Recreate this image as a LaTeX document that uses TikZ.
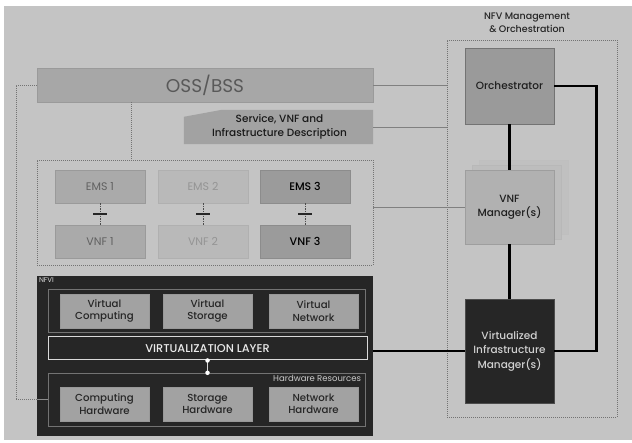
\documentclass[tikz,border=0pt]{standalone}
\usepackage{fontspec}
\setmainfont{Poppins}
\newfontfamily\medium{Poppins Medium}
\usetikzlibrary{calc}
\definecolor{bgray}{HTML}{C4C4C4}
\definecolor{ossfill}{HTML}{A7A7A7}
\definecolor{ossborder}{HTML}{9A9A9A}
\definecolor{midfill}{HTML}{A2A2A2}
\definecolor{dark}{HTML}{262626}
\definecolor{emsA}{HTML}{AAAAAA}
\definecolor{emsB}{HTML}{B9B9B9}
\definecolor{emsC}{HTML}{9B9B9B}
\definecolor{vnfmfill}{HTML}{B1B1B1}
\definecolor{layerfill}{HTML}{BDBDBD}
\tikzset{
  box/.style={rectangle, inner sep=0pt, align=center, font=\fontsize{11}{12}\selectfont},
  emsone/.style={box, fill=emsA, draw=ossborder, text=black!62, minimum width=90pt, minimum height=33pt},
  emstwo/.style={box, fill=emsB, draw=emsB!95!black, text=black!42, minimum width=90pt, minimum height=33pt},
  emsthree/.style={box, fill=emsC, draw=black!45, text=black, minimum width=90pt, minimum height=33pt},
  resbox/.style={box, fill=midfill, draw=black!40, text=black!85, minimum width=89pt, minimum height=34pt, font=\medium\fontsize{10.2}{12.5}\selectfont},
  manobox/.style={box, minimum width=89pt, font=\medium\fontsize{10.5}{14}\selectfont},
  dashedframe/.style={draw=black!55, dash pattern=on 1pt off 1pt, line width=0.5pt},
  thinlink/.style={draw=black!50, line width=0.6pt},
  thicklink/.style={draw=black, line width=2.6pt},
  emslink/.style={draw=black!70, dash pattern=on 1.5pt off 1pt, line width=0.5pt},
  emstick/.style={draw=black!85, line width=1.2pt},
  dot/.style={circle, fill=white, inner sep=0pt, minimum size=4.5pt}
}
\begin{document}
\begin{tikzpicture}[x=1pt, y=-1pt]
\useasboundingbox (0,0) rectangle (632,443);
\fill[white] (0,0) rectangle (632,443);
\fill[bgray] (3.5,6) rectangle (632,440);

% NFV MANO frame and title
\node[box, dashedframe, minimum width=170pt, minimum height=377pt] (mano) at (532,228.5) {};
\node[box, font=\medium\fontsize{9.5}{13}\selectfont, text=black!85] (manotitle) at (527,23) {NFV Management\\\& Orchestration};

% OSS/BSS and descriptors
\node[box, fill=ossfill, draw=ossborder, minimum width=336pt, minimum height=34pt, text=black!65, font=\fontsize{18.5}{20}\selectfont] (oss) at (205,85) {OSS/BSS};
\node[box, minimum width=189pt, minimum height=34pt] (desc) at (278.5,127) {};
\fill[midfill] (desc.south west) -- ([yshift=-7pt]desc.north west) -- ([xshift=38pt]desc.north west) -- (desc.north east) -- (desc.south east) -- cycle;
\node[box, text=black!90, font=\medium\fontsize{10.5}{14}\selectfont] (desctext) at ([xshift=1pt]desc.center) {Service, VNF and\\Infrastructure Description};

% EMS / VNF group
\node[box, dashedframe, minimum width=336pt, minimum height=105pt] (emsbox) at (205,212.5) {};
\node[emsone] (ems1) at (100,186.5) {EMS 1};
\node[emstwo] (ems2) at (203,186.5) {EMS 2};
\node[emsthree, font=\medium\fontsize{11}{12}\selectfont] (ems3) at (305,186.5) {EMS 3};
\node[emsone] (vnf1) at (100,241.5) {VNF 1};
\node[emstwo] (vnf2) at (203,241.5) {VNF 2};
\node[emsthree, font=\medium\fontsize{11}{12}\selectfont] (vnf3) at (305,241.5) {VNF 3};
\foreach \e/\v in {ems1/vnf1, ems2/vnf2, ems3/vnf3} {
  \draw[emslink] (\e.south) -- (\v.north);
  \draw[emstick] ($(\e.south)!0.5!(\v.north)$) +(-7,0) -- +(7,0);
}

% MANO functional blocks
\node[manobox, fill=midfill!95!black, draw=black!55, minimum height=76pt, text=black!88] (orch) at (509.5,86) {Orchestrator};
\node[box, fill=layerfill!60!bgray, draw=black!25, minimum width=89pt, minimum height=74pt] (vnfmback) at (523.5,197) {};
\node[box, fill=layerfill, draw=black!28, minimum width=89pt, minimum height=74pt] (vnfmmid) at (516.5,202) {};
\node[manobox, fill=vnfmfill, draw=black!38, minimum height=74pt, text=black!88] (vnfm) at (509.5,207) {VNF\\Manager(s)};
\node[manobox, fill=dark, draw=black!70, minimum height=104pt, text=black!18, font=\medium\fontsize{10.5}{14.5}\selectfont] (vim) at (509.5,351) {Virtualized\\Infrastructure\\Manager(s)};

% NFVI
\node[box, fill=dark, minimum width=336pt, minimum height=160pt] (nfvi) at (205,356) {};
\node[box, anchor=north west, text=white!85!black, font=\fontsize{7}{7}\selectfont] (nfvilabel) at ([xshift=2pt, yshift=-2pt]nfvi.north west) {NFVI};
\node[box, draw=black!55, minimum width=317pt, minimum height=43pt] (virtbox) at (206.5,311) {};
\node[resbox] (vcomp) at (104.5,311) {Virtual\\Computing};
\node[resbox] (vstor) at (207.5,311) {Virtual\\Storage};
\node[resbox] (vnet) at (313.5,311) {Virtual\\Network};
\node[box, draw=white!85!black, line width=1pt, minimum width=319pt, minimum height=23pt, text=white!92!black, font=\medium\fontsize{11.3}{13}\selectfont] (vl) at (207.5,348.5) {VIRTUALIZATION LAYER};
\node[box, draw=black!55, minimum width=317pt, minimum height=53pt] (hwbox) at (206.5,399.5) {};
\node[box, anchor=north east, text=white!80!black, font=\fontsize{8.5}{9}\selectfont] (hwlabel) at ([xshift=-4pt, yshift=-2pt]hwbox.north east) {Hardware Resources};
\node[resbox] (chw) at (104.5,404) {Computing\\Hardware};
\node[resbox] (shw) at (207.5,404) {Storage\\Hardware};
\node[resbox] (nhw) at (313.5,404) {Network\\Hardware};
\draw[white!85!black, line width=1.2pt] (vl.south) -- (vl.south |- hwbox.north);
\node[dot] (vldot) at (vl.south) {};
\node[dot] (hwdot) at (vl.south |- hwbox.north) {};

% Reference points
\draw[thinlink] (oss.east) -- (oss.east -| mano.west);
\draw[thinlink] (desc.east) -- (desc.east -| mano.west);
\draw[thinlink] (vnfm.west) -- (vnfm.west -| emsbox.east);
\draw[dashedframe] ([xshift=-74pt]oss.south) -- ([xshift=-74pt]oss.south |- emsbox.north);
\draw[dashedframe] (oss.west) -- ++(-21,0) |- (hwbox.west -| nfvi.west);
\draw[draw=black!45, line width=0.6pt] (hwbox.west -| nfvi.west) -- (hwbox.west);

% Main control links
\draw[thicklink] (orch.south) -- (vnfm.north);
\draw[thicklink] (vnfm.south) -- (vim.north);
\draw[thicklink] (nfvi.east |- vim.west) -- (vim.west);
\draw[thicklink] (orch.east) -- ++(42,0) |- (vim.east);
\end{tikzpicture}
\end{document}
